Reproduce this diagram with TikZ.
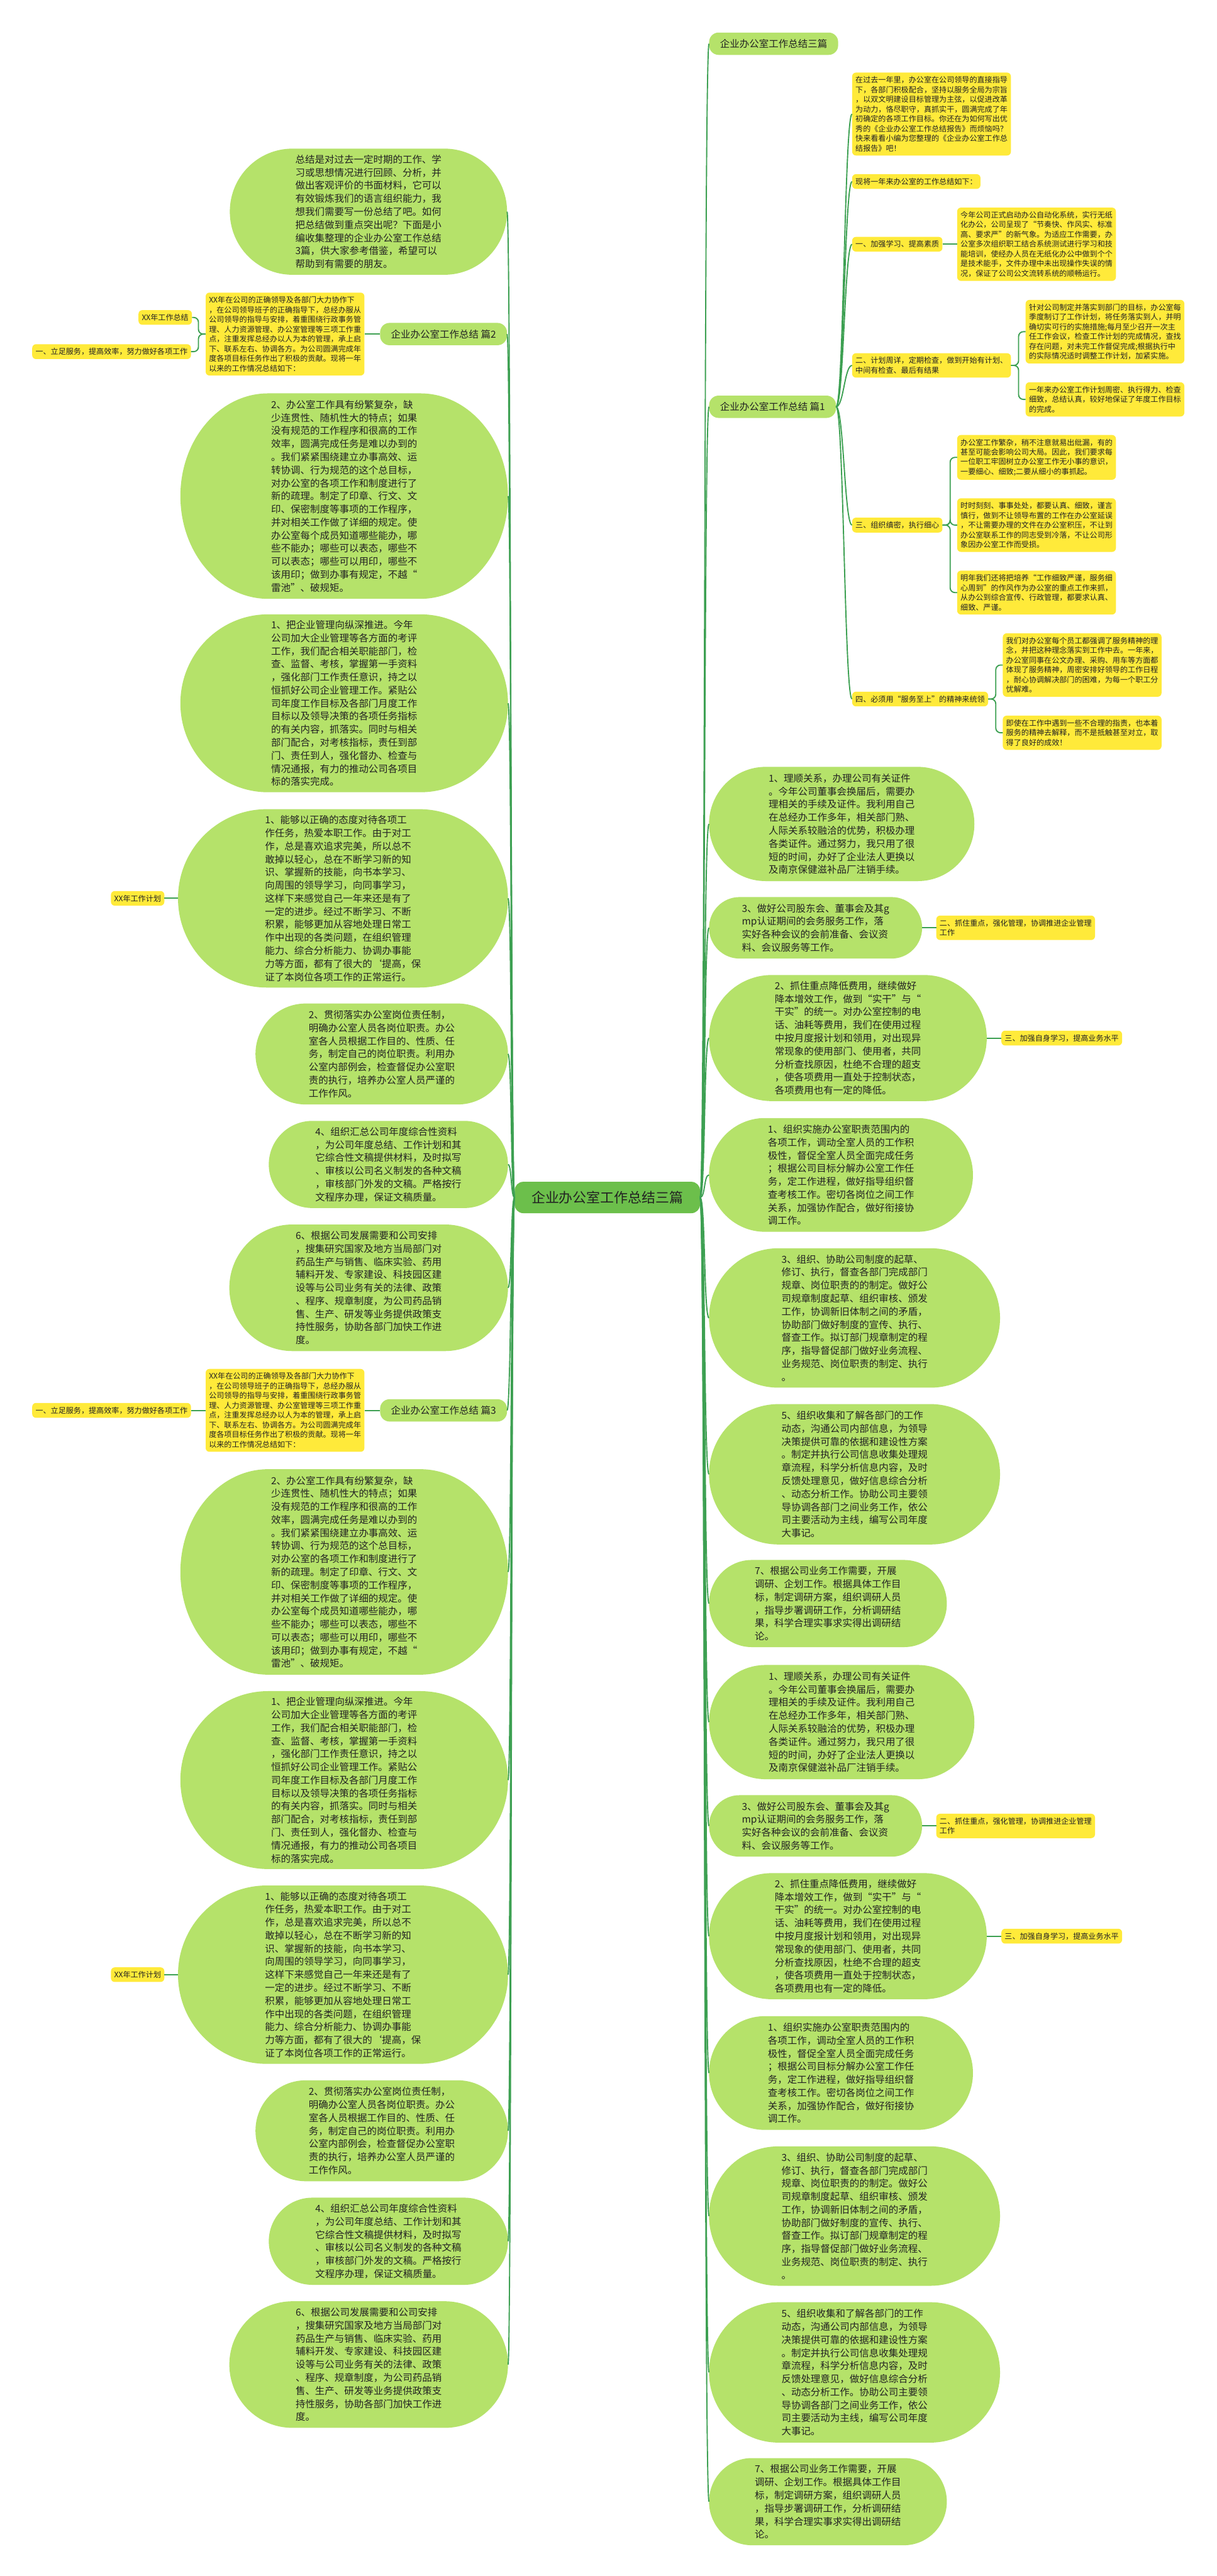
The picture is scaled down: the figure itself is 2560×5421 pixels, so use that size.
\documentclass[tikz,border=0pt]{standalone}
\usepackage{fontspec}
\setmainfont{Noto Sans CJK SC}
\usetikzlibrary{calc,backgrounds}
\definecolor{ec}{HTML}{B5E26A}
\definecolor{yc}{HTML}{FFEA3A}
\definecolor{lc}{HTML}{3DA052}
\definecolor{rc}{HTML}{6CBF4B}
\definecolor{tc}{HTML}{222222}
\tikzset{
 conn/.style={draw=lc, line width=2.5pt},
 ebox/.style={inner sep=0pt, align=left, font=\fontsize{20.5}{27.5}\selectfont, text=tc},
 ybox/.style={fill=yc, rounded corners=8pt, inner xsep=7pt, inner ysep=8pt, align=left, font=\fontsize{16}{20.5}\selectfont, text=tc},
 pbox/.style={fill=ec, rounded corners=20pt, inner xsep=23pt, minimum height=47pt, font=\fontsize{20.5}{24}\selectfont, text=tc},
 rootbox/.style={fill=rc, rounded corners=18pt, minimum width=390pt, minimum height=66pt, font=\fontsize{29}{33}\selectfont, text=tc},
}
\newcommand\blobfill[1]{%
 \begin{pgfonlayer}{background}
 \fill[ec] let \p1=(#1.north west), \p2=(#1.south east),
   \n1={(\y1-\y2)/2}, \n2={(\x2-\x1-320pt)/2} in
   (\x1+\n2,\y1) -- (\x2-\n2,\y1)
   arc[start angle=90,end angle=-90,x radius=\n2,y radius=\n1]
   -- (\x1+\n2,\y2)
   arc[start angle=270,end angle=90,x radius=\n2,y radius=\n1] -- cycle;
 \end{pgfonlayer}}
\newcommand\Lsumtxt{XX年在公司的正确领导及各部门大力协作下\\，在公司领导班子的正确指导下，总经办服从\\公司领导的指导与安排，着重围绕行政事务管\\理、人力资源管理、办公室管理等三项工作重\\点，注重发挥总经办以人为本的管理，承上启\\下、联系左右、协调各方。为公司圆满完成年\\度各项目标任务作出了积极的贡献。现将一年\\以来的工作情况总结如下：}
\newcommand\LoneTxt{2、办公室工作具有纷繁复杂，缺\\少连贯性、随机性大的特点；如果\\没有规范的工作程序和很高的工作\\效率，圆满完成任务是难以办到的\\。我们紧紧围绕建立办事高效、运\\转协调、行为规范的这个总目标，\\对办公室的各项工作和制度进行了\\新的疏理。制定了印章、行文、文\\印、保密制度等事项的工作程序，\\并对相关工作做了详细的规定。使\\办公室每个成员知道哪些能办，哪\\些不能办；哪些可以表态，哪些不\\可以表态；哪些可以用印，哪些不\\该用印；做到办事有规定，不越“\\雷池”、破规矩。}
\newcommand\LtwoTxt{1、把企业管理向纵深推进。今年\\公司加大企业管理等各方面的考评\\工作，我们配合相关职能部门，检\\查、监督、考核，掌握第一手资料\\，强化部门工作责任意识，持之以\\恒抓好公司企业管理工作。紧贴公\\司年度工作目标及各部门月度工作\\目标以及领导决策的各项任务指标\\的有关内容，抓落实。同时与相关\\部门配合，对考核指标，责任到部\\门、责任到人，强化督办、检查与\\情况通报，有力的推动公司各项目\\标的落实完成。}
\newcommand\LthreeTxt{1、能够以正确的态度对待各项工\\作任务，热爱本职工作。由于对工\\作，总是喜欢追求完美，所以总不\\敢掉以轻心，总在不断学习新的知\\识、掌握新的技能，向书本学习、\\向周围的领导学习，向同事学习，\\这样下来感觉自己一年来还是有了\\一定的进步。经过不断学习、不断\\积累，能够更加从容地处理日常工\\作中出现的各类问题，在组织管理\\能力、综合分析能力、协调办事能\\力等方面，都有了很大的\char96\relax 提高，保\\证了本岗位各项工作的正常运行。}
\newcommand\LfourTxt{2、贯彻落实办公室岗位责任制，\\明确办公室人员各岗位职责。办公\\室各人员根据工作目的、性质、任\\务，制定自己的岗位职责。利用办\\公室内部例会，检查督促办公室职\\责的执行，培养办公室人员严谨的\\工作作风。}
\newcommand\LfiveTxt{4、组织汇总公司年度综合性资料\\，为公司年度总结、工作计划和其\\它综合性文稿提供材料，及时拟写\\、审核以公司名义制发的各种文稿\\，审核部门外发的文稿。严格按行\\文程序办理，保证文稿质量。}
\newcommand\LsixTxt{6、根据公司发展需要和公司安排\\，搜集研究国家及地方当局部门对\\药品生产与销售、临床实验、药用\\辅料开发、专家建设、科技园区建\\设等与公司业务有关的法律、政策\\、程序、规章制度，为公司药品销\\售、生产、研发等业务提供政策支\\持性服务，协助各部门加快工作进\\度。}
\newcommand\RoneTxt{1、理顺关系，办理公司有关证件\\。今年公司董事会换届后，需要办\\理相关的手续及证件。我利用自己\\在总经办工作多年，相关部门熟、\\人际关系较融洽的优势，积极办理\\各类证件。通过努力，我只用了很\\短的时间，办好了企业法人更换以\\及南京保健滋补品厂注销手续。}
\newcommand\RtwoTxt{3、做好公司股东会、董事会及其g\\mp认证期间的会务服务工作，落\\实好各种会议的会前准备、会议资\\料、会议服务等工作。}
\newcommand\RthreeTxt{2、抓住重点降低费用，继续做好\\降本增效工作，做到“实干”与“\\干实”的统一。对办公室控制的电\\话、油耗等费用，我们在使用过程\\中按月度报计划和领用，对出现异\\常现象的使用部门、使用者，共同\\分析查找原因，杜绝不合理的超支\\，使各项费用一直处于控制状态，\\各项费用也有一定的降低。}
\newcommand\RfourTxt{1、组织实施办公室职责范围内的\\各项工作，调动全室人员的工作积\\极性，督促全室人员全面完成任务\\；根据公司目标分解办公室工作任\\务，定工作进程，做好指导组织督\\查考核工作。密切各岗位之间工作\\关系，加强协作配合，做好衔接协\\调工作。}
\newcommand\RfiveTxt{3、组织、协助公司制度的起草、\\修订、执行，督查各部门完成部门\\规章、岗位职责的的制定。做好公\\司规章制度起草、组织审核、颁发\\工作，协调新旧体制之间的矛盾，\\协助部门做好制度的宣传、执行、\\督查工作。拟订部门规章制定的程\\序，指导督促部门做好业务流程、\\业务规范、岗位职责的制定、执行\\。}
\newcommand\RsixTxt{5、组织收集和了解各部门的工作\\动态，沟通公司内部信息，为领导\\决策提供可靠的依据和建设性方案\\。制定并执行公司信息收集处理规\\章流程，科学分析信息内容，及时\\反馈处理意见，做好信息综合分析\\、动态分析工作。协助公司主要领\\导协调各部门之间业务工作，依公\\司主要活动为主线，编写公司年度\\大事记。}
\newcommand\RsevenTxt{7、根据公司业务工作需要，开展\\调研、企划工作。根据具体工作目\\标，制定调研方案，组织调研人员\\，指导步署调研工作，分析调研结\\果，科学合理实事求实得出调研结\\论。}
\begin{document}
\begin{tikzpicture}[x=1pt,y=-1pt]
\useasboundingbox (0,0) rectangle (2560,5421);
\begin{pgfonlayer}{background}
\fill[white] (0,0) rectangle (2560,5421);
\end{pgfonlayer}
% root
\node[rootbox] (root) at (1278,2520) {企业办公室工作总结三篇};
% ---------- left side ----------
\node[ebox, minimum width=583pt, minimum height=265pt, anchor=east] (intro) at (1067,445.5) {总结是对过去一定时期的工作、学\\习或思想情况进行回顾、分析，并\\做出客观评价的书面材料，它可以\\有效锻炼我们的语言组织能力，我\\想我们需要写一份总结了吧。如何\\把总结做到重点突出呢？下面是小\\编收集整理的企业办公室工作总结\\3篇，供大家参考借鉴，希望可以\\帮助到有需要的朋友。};
\blobfill{intro}
\node[pbox, anchor=east] (P2) at (1067,703) {企业办公室工作总结 篇2};
\node[ybox, anchor=east] (YL2) at (767,703) {\Lsumtxt};
\node[ybox, anchor=east] (XXS) at (404,668) {XX年工作总结};
\node[ybox, anchor=east] (A1) at (402,740) {一、立足服务，提高效率，努力做好各项工作};
\node[ebox, minimum width=689pt, minimum height=432pt, anchor=east] (L1) at (1069,1044) {\LoneTxt};
\blobfill{L1}
\node[ebox, minimum width=689pt, minimum height=374pt, anchor=east] (L2) at (1069,1480) {\LtwoTxt};
\blobfill{L2}
\node[ebox, minimum width=694pt, minimum height=375pt, anchor=east] (L3) at (1069,1890.5) {\LthreeTxt};
\blobfill{L3}
\node[ybox, anchor=east] (XXP1) at (346,1890.5) {XX年工作计划};
\node[ebox, minimum width=531pt, minimum height=212pt, anchor=east] (L4) at (1069,2218) {\LfourTxt};
\blobfill{L4}
\node[ebox, minimum width=503pt, minimum height=183pt, anchor=east] (L5) at (1069,2450.5) {\LfiveTxt};
\blobfill{L5}
\node[ebox, minimum width=586pt, minimum height=266pt, anchor=east] (L6) at (1069,2710) {\LsixTxt};
\blobfill{L6}
\node[pbox, anchor=east] (P3) at (1067,2968) {企业办公室工作总结 篇3};
\node[ybox, anchor=east] (YL3) at (767,2968) {\Lsumtxt};
\node[ybox, anchor=east] (A2) at (402,2968) {一、立足服务，提高效率，努力做好各项工作};
\node[ebox, minimum width=689pt, minimum height=432pt, anchor=east] (L7) at (1069,3308) {\LoneTxt};
\blobfill{L7}
\node[ebox, minimum width=689pt, minimum height=374pt, anchor=east] (L8) at (1069,3746) {\LtwoTxt};
\blobfill{L8}
\node[ebox, minimum width=694pt, minimum height=375pt, anchor=east] (L9) at (1069,4155.5) {\LthreeTxt};
\blobfill{L9}
\node[ybox, anchor=east] (XXP2) at (346,4155.5) {XX年工作计划};
\node[ebox, minimum width=531pt, minimum height=212pt, anchor=east] (L10) at (1069,4484) {\LfourTxt};
\blobfill{L10}
\node[ebox, minimum width=503pt, minimum height=183pt, anchor=east] (L11) at (1069,4716.5) {\LfiveTxt};
\blobfill{L11}
\node[ebox, minimum width=586pt, minimum height=266pt, anchor=east] (L12) at (1069,4976) {\LsixTxt};
\blobfill{L12}
% ---------- right side ----------
\node[pbox, anchor=west] (T0) at (1492,92) {企业办公室工作总结三篇};
\node[pbox, anchor=west] (B1) at (1492,856) {企业办公室工作总结 篇1};
\node[ybox, anchor=west] (Y1) at (1793,240) {在过去一年里，办公室在公司领导的直接指导\\下，各部门积极配合，坚持以服务全局为宗旨\\，以双文明建设目标管理为主弦，以促进改革\\为动力，恪尽职守，真抓实干，圆满完成了年\\初确定的各项工作目标。你还在为如何写出优\\秀的《企业办公室工作总结报告》而烦恼吗？\\快来看看小编为您整理的《企业办公室工作总\\结报告》吧！};
\node[ybox, anchor=west] (Y2) at (1793,382) {现将一年来办公室的工作总结如下：};
\node[ybox, anchor=west] (Y3) at (1793,514) {一、加强学习、提高素质};
\node[ybox, anchor=west] (Y3a) at (2014,514) {今年公司正式启动办公自动化系统，实行无纸\\化办公，公司呈现了“节奏快、作风实、标准\\高、要求严”的新气象。为适应工作需要，办\\公室多次组织职工结合系统测试进行学习和技\\能培训，使经办人员在无纸化办公中做到个个\\是技术能手，文件办理中未出现操作失误的情\\况，保证了公司公文流转系统的顺畅运行。};
\node[ybox, anchor=west] (Y4) at (1793,769) {二、计划周详，定期检查，做到开始有计划、\\中间有检查、最后有结果};
\node[ybox, anchor=west] (Y4a) at (2158,698) {针对公司制定并落实到部门的目标，办公室每\\季度制订了工作计划，将任务落实到人，并明\\确切实可行的实施措施;每月至少召开一次主\\任工作会议，检查工作计划的完成情况，查找\\存在问题，对未完工作督促完成;根据执行中\\的实际情况适时调整工作计划，加紧实施。};
\node[ybox, anchor=west] (Y4b) at (2158,840.5) {一年来办公室工作计划周密、执行得力、检查\\细致，总结认真，较好地保证了年度工作目标\\的完成。};
\node[ybox, anchor=west] (Y5) at (1793,1105) {三、组织缜密，执行细心};
\node[ybox, anchor=west] (Y5a) at (2014,962.5) {办公室工作繁杂，稍不注意就易出纰漏，有的\\甚至可能会影响公司大局。因此，我们要求每\\一位职工牢固树立办公室工作无小事的意识，\\一要细心、细致;二要从细小的事抓起。};
\node[ybox, anchor=west] (Y5b) at (2014,1105) {时时刻刻、事事处处，都要认真、细致，谨言\\慎行，做到不让领导布置的工作在办公室延误\\，不让需要办理的文件在办公室积压，不让到\\办公室联系工作的同志受到冷落，不让公司形\\象因办公室工作而受损。};
\node[ybox, anchor=west] (Y5c) at (2014,1247) {明年我们还将把培养“工作细致严谨，服务细\\心周到”的作风作为办公室的重点工作来抓，\\从办公到综合宣传、行政管理，都要求认真、\\细致、严谨。};
\node[ybox, anchor=west] (Y6) at (1793,1471) {四、必须用“服务至上”的精神来统领};
\node[ybox, anchor=west] (Y6a) at (2110,1399.5) {我们对办公室每个员工都强调了服务精神的理\\念，并把这种理念落实到工作中去。一年来，\\办公室同事在公文办理、采购、用车等方面都\\体现了服务精神，周密安排好领导的工作日程\\，耐心协调解决部门的困难，为每一个职工分\\忧解难。};
\node[ybox, anchor=west] (Y6b) at (2110,1542) {即使在工作中遇到一些不合理的指责，也本着\\服务的精神去解释，而不是抵触甚至对立，取\\得了良好的成效！};
% right ellipses
\node[ebox, minimum width=558pt, minimum height=240pt, anchor=west] (R1) at (1492,1734) {\RoneTxt};
\blobfill{R1}
\node[ebox, minimum width=448pt, minimum height=129pt, anchor=west] (R2) at (1492,1952.5) {\RtwoTxt};
\blobfill{R2}
\node[ybox, anchor=west] (RC2) at (1970,1952.5) {二、抓住重点，强化管理，协调推进企业管理\\工作};
\node[ebox, minimum width=584pt, minimum height=265pt, anchor=west] (R3) at (1492,2184.5) {\RthreeTxt};
\blobfill{R3}
\node[ybox, anchor=west] (RC3) at (2107,2184.5) {三、加强自身学习，提高业务水平};
\node[ebox, minimum width=555pt, minimum height=239pt, anchor=west] (R4) at (1492,2472.5) {\RfourTxt};
\blobfill{R4}
\node[ebox, minimum width=612pt, minimum height=293pt, anchor=west] (R5) at (1492,2773.5) {\RfiveTxt};
\blobfill{R5}
\node[ebox, minimum width=612pt, minimum height=295pt, anchor=west] (R6) at (1492,3102.5) {\RsixTxt};
\blobfill{R6}
\node[ebox, minimum width=500pt, minimum height=183pt, anchor=west] (R7) at (1492,3374.5) {\RsevenTxt};
\blobfill{R7}
\node[ebox, minimum width=558pt, minimum height=240pt, anchor=west] (R8) at (1492,3624) {\RoneTxt};
\blobfill{R8}
\node[ebox, minimum width=448pt, minimum height=129pt, anchor=west] (R9) at (1492,3842.5) {\RtwoTxt};
\blobfill{R9}
\node[ybox, anchor=west] (RC9) at (1970,3842.5) {二、抓住重点，强化管理，协调推进企业管理\\工作};
\node[ebox, minimum width=584pt, minimum height=265pt, anchor=west] (R10) at (1492,4074.5) {\RthreeTxt};
\blobfill{R10}
\node[ybox, anchor=west] (RC10) at (2107,4074.5) {三、加强自身学习，提高业务水平};
\node[ebox, minimum width=555pt, minimum height=239pt, anchor=west] (R11) at (1492,4362.5) {\RfourTxt};
\blobfill{R11}
\node[ebox, minimum width=612pt, minimum height=293pt, anchor=west] (R12) at (1492,4663.5) {\RfiveTxt};
\blobfill{R12}
\node[ebox, minimum width=612pt, minimum height=295pt, anchor=west] (R13) at (1492,4992.5) {\RsixTxt};
\blobfill{R13}
\node[ebox, minimum width=500pt, minimum height=183pt, anchor=west] (R14) at (1492,5264.5) {\RsevenTxt};
\blobfill{R14}
% ---------- connectors ----------
\foreach \n in {intro,P2,L1,L2,L3,L4,L5,L6,P3,L7,L8,L9,L10,L11,L12}
  \draw[conn] (root.west) .. controls +(-8,0) and +(8,0) .. (\n.east);
\foreach \n in {T0,B1,R1,R2,R3,R4,R5,R6,R7,R8,R9,R10,R11,R12,R13,R14}
  \draw[conn] (root.east) .. controls +(11,0) and +(-11,0) .. (\n.west);
\foreach \n in {Y1,Y2,Y3,Y4,Y5,Y6}
  \draw[conn] (B1.east) .. controls +(16,0) and +(-16,0) .. (\n.west);
\draw[conn] (Y3.east) -- (Y3a.west);
\foreach \c in {Y4a,Y4b} \draw[conn, rounded corners=10pt] (Y4.east) -- ++(16,0) |- (\c.west);
\foreach \c in {Y5a,Y5b,Y5c} \draw[conn, rounded corners=10pt] (Y5.east) -- ++(16,0) |- (\c.west);
\foreach \c in {Y6a,Y6b} \draw[conn, rounded corners=10pt] (Y6.east) -- ++(16,0) |- (\c.west);
\draw[conn] (P2.west) -- (YL2.east);
\foreach \c in {XXS,A1} \draw[conn, rounded corners=10pt] (YL2.west) -- ++(-15,0) |- (\c.east);
\draw[conn] (P3.west) -- (YL3.east);
\draw[conn] (YL3.west) -- (A2.east);
\draw[conn] (L3.west) -- (XXP1.east);
\draw[conn] (L9.west) -- (XXP2.east);
\draw[conn] (R2.east) -- (RC2.west);
\draw[conn] (R3.east) -- (RC3.west);
\draw[conn] (R9.east) -- (RC9.west);
\draw[conn] (R10.east) -- (RC10.west);
\end{tikzpicture}
\end{document}
